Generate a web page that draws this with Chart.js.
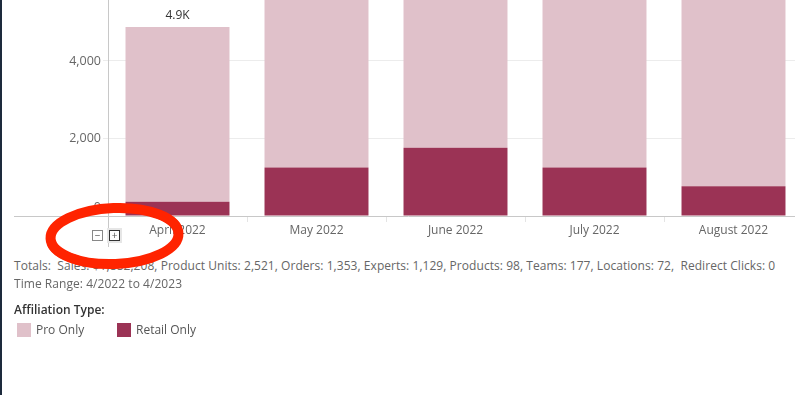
<!DOCTYPE html>
<html>
<head>
<meta charset="utf-8">
<script src="https://cdn.jsdelivr.net/npm/chart.js@4.4.1/dist/chart.umd.min.js"></script>
<style>
  html, body { margin: 0; padding: 0; width: 795px; height: 395px; overflow: hidden; background: #fff; font-family: "Open Sans", sans-serif; }
  #wrap { position: absolute; left: 0; top: 0; width: 803px; height: 250px; }
  #leftEdge { position: absolute; left: 0; top: 0; width: 2px; height: 395px; background: #1d2a3c; }
  .txt { position: absolute; left: 14px; font-size: 12px; color: #666; white-space: nowrap; letter-spacing: 0.05px; }
  #legendTitle { position: absolute; left: 14px; top: 301px; font-size: 12px; color: #333; font-weight: 600; }
  .sw { position: absolute; top: 323px; width: 14px; height: 14px; }
  .lg { position: absolute; top: 321px; font-size: 12px; color: #555; }
  .btn { position: absolute; top: 230px; width: 9px; height: 9px; border: 1px solid #888; font-size: 10px; line-height: 9px; text-align: center; color: #555; background: #fff; }
  #ink { position: absolute; left: 0; top: 0; pointer-events: none; }
</style>
</head>
<body>
<div id="wrap"><canvas id="chart" width="803" height="250"></canvas></div>
<div id="leftEdge"></div>
<div class="btn" style="left:92px">&minus;</div>
<div class="btn" style="left:109px;border-color:#333;box-shadow:0 0 0 2px #e6e6e6">+</div>
<div class="txt" style="top:257px">Totals:&nbsp; Sales: $1,882,208, Product Units: 2,521, Orders: 1,353, Experts: 1,129, Products: 98, Teams: 177, Locations: 72,&nbsp; Redirect Clicks: 0</div>
<div class="txt" style="top:275px">Time Range: 4/2022 to 4/2023</div>
<div id="legendTitle">Affiliation Type:</div>
<div class="sw" style="left:17px;background:#e0c1ca"></div>
<div class="lg" style="left:36px">Pro Only</div>
<div class="sw" style="left:117px;background:#9b3355"></div>
<div class="lg" style="left:136px">Retail Only</div>
<canvas id="ink" width="795" height="395"></canvas>
<script>
const months = ['April 2022', 'May 2022', 'June 2022', 'July 2022', 'August 2022'];
const retailOnly = [369, 1252, 1762, 1252, 766];
const proOnly = [4508, 5450, 5300, 5520, 5650];
const yTicks = [0, 2000, 4000];
const yMax = 5574;

const totals = months.map((m, i) => retailOnly[i] + proOnly[i]);

// total labels, the raised "0" label and the axis lines
const extras = {
    id: 'extras',
    afterDatasetsDraw(chart) {
        const c = chart.ctx, x = chart.scales.x, y = chart.scales.y;
        c.save();
        c.font = '12px "Open Sans"';
        c.fillStyle = '#333';
        c.textAlign = 'center';
        c.textBaseline = 'middle';
        totals.forEach((t, i) => {
            const ty = y.getPixelForValue(t) - 11;
            if (ty > 4) c.fillText((t / 1000).toFixed(1) + 'K', x.getPixelForValue(i), ty);
        });
        c.font = '12.5px "Open Sans"';
        c.fillStyle = '#666';
        c.textAlign = 'right';
        c.fillText(yTicks[0].toLocaleString('en-US'), 101, y.getPixelForValue(yTicks[0]) - 9);
        const y0 = Math.round(y.getPixelForValue(0)) + 0.5;
        c.strokeStyle = '#c8c8c8';
        c.lineWidth = 1;
        c.beginPath();
        c.moveTo(14, y0); c.lineTo(chart.width, y0);
        c.moveTo(108.5, 0); c.lineTo(108.5, 247);
        c.stroke();
        c.restore();
    }
};

new Chart(document.getElementById('chart'), {
    type: 'bar',
    data: {
        labels: months,
        datasets: [
            { label: 'Retail Only', data: retailOnly, backgroundColor: '#9b3355' },
            { label: 'Pro Only', data: proOnly, backgroundColor: '#e0c1ca' }
        ]
    },
    options: {
        responsive: false,
        animation: false,
        layout: { padding: 0 },
        datasets: { bar: { categoryPercentage: 1, barPercentage: 0.748 } },
        plugins: { legend: { display: false }, tooltip: { enabled: false } },
        scales: {
            x: {
                stacked: true,
                border: { display: false },
                grid: { offset: true, drawOnChartArea: false, tickLength: 6, color: '#e4e4e4' },
                ticks: { color: '#666', font: { family: 'Open Sans', size: 12 }, padding: 1, maxRotation: 0 },
                afterFit(s) { s.height = 34; s.paddingLeft = 0; s.paddingRight = 0; }
            },
            y: {
                stacked: true,
                min: 0,
                max: yMax,
                border: { display: false },
                grid: { color: ctx => ctx.tick && ctx.tick.value === 0 ? 'rgba(0,0,0,0)' : '#ececec', tickLength: 5 },
                ticks: { color: '#666', font: { family: 'Open Sans', size: 12.5 }, padding: 2,
                         callback: v => v === 0 ? '' : v.toLocaleString('en-US') },
                afterBuildTicks(s) { s.ticks = yTicks.map(v => ({ value: v })); },
                afterFit(s) { s.width = 108; s.paddingTop = 0; s.paddingBottom = 0; }
            }
        }
    },
    plugins: [extras]
});

// hand-drawn red marker circle over the zoom buttons
const ink = document.getElementById('ink').getContext('2d');
ink.strokeStyle = '#ff2400';
ink.lineCap = 'round';
const passes = [[0, 0, 10], [1.5, -1.5, 5], [-1.5, 1.5, 5], [2, 1, 4], [-2, -1, 4], [0, 2.5, 3], [0, -2.5, 3]];
passes.forEach(([dx, dy, w]) => {
    ink.lineWidth = w;
    ink.beginPath();
    ink.ellipse(114.5 + dx, 236 + dy, 64, 28, -0.04, 0, Math.PI * 2);
    ink.stroke();
});
</script>
</body>
</html>
